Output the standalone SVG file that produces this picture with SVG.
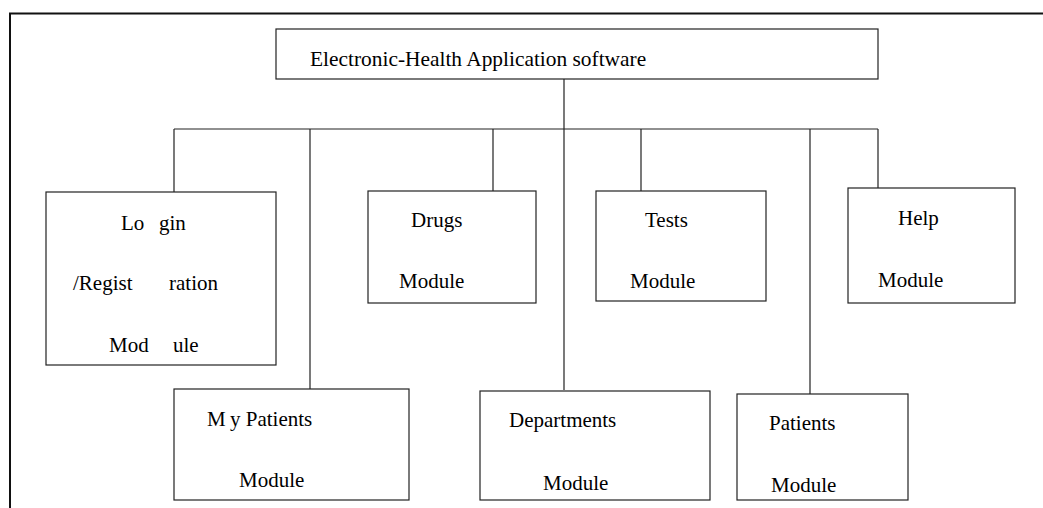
<svg xmlns="http://www.w3.org/2000/svg" width="1043" height="508" viewBox="0 0 1043 508">
<style>
.box{fill:#fff;stroke:#222;stroke-width:1.2}
.ln{fill:none;stroke:#222;stroke-width:1.2}
.t{font-family:"Liberation Serif","Times New Roman",serif;font-size:21px;fill:#000}
</style>
<rect x="0" y="0" width="1043" height="508" fill="#fff"/>
<path d="M1043 13.5H10V508" fill="none" stroke="#111" stroke-width="2"/>
<g id="connectors">
<path class="ln" d="M564 79V129M174 129H878M174 129V192M310 129V389M493 129V191M564 129V390M641 129V191M810 129V394M878 129V188"/>
</g>
<g id="root"><rect class="box" x="276" y="29" width="602" height="50"/><text class="t" x="310" y="66" style="font-size:21.4px">Electronic-Health Application software</text></g>
<g id="login"><rect class="box" x="46" y="192" width="230" height="173"/>
<text class="t" x="121" y="230">Lo</text><text class="t" x="159" y="230">gin</text>
<text class="t" x="73" y="290">/Regist</text><text class="t" x="169" y="290">ration</text>
<text class="t" x="109" y="352">Mod</text><text class="t" x="173" y="352">ule</text></g>
<g id="mypatients"><rect class="box" x="174" y="389" width="235" height="111"/>
<text class="t" x="207" y="426">M</text><text class="t" x="230" y="426">y Patients</text>
<text class="t" x="239" y="487">Module</text></g>
<g id="drugs"><rect class="box" x="368" y="191" width="168" height="112"/>
<text class="t" x="411" y="227">Drugs</text><text class="t" x="399" y="288">Module</text></g>
<g id="departments"><rect class="box" x="480" y="391" width="230" height="109"/>
<text class="t" x="509" y="427">Departments</text><text class="t" x="543" y="490">Module</text></g>
<g id="tests"><rect class="box" x="596" y="191" width="170" height="110"/>
<text class="t" x="645" y="227">Tests</text><text class="t" x="630" y="288">Module</text></g>
<g id="patients"><rect class="box" x="737" y="394" width="171" height="106"/>
<text class="t" x="769" y="430">Patients</text><text class="t" x="771" y="492">Module</text></g>
<g id="help"><rect class="box" x="848" y="188" width="167" height="115"/>
<text class="t" x="898" y="225">Help</text><text class="t" x="878" y="287">Module</text></g>
</svg>
